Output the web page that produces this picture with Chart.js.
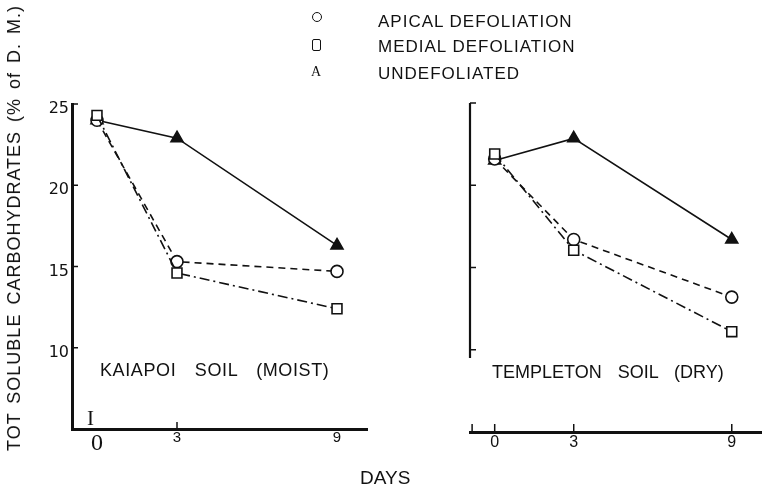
<!DOCTYPE html>
<html><head><meta charset="utf-8">
<script src="https://cdn.jsdelivr.net/npm/chart.js@4.4.1/dist/chart.umd.min.js"></script>
<style>
body{margin:0;background:#fff;}
#wrap{position:relative;width:770px;height:490px;overflow:hidden;background:#fff;font-family:"Liberation Sans",Arial,sans-serif;color:#111;}
canvas{position:absolute;top:0;}
.t{position:absolute;white-space:nowrap;line-height:1;}
.sym{position:absolute;box-sizing:border-box;border:1.6px solid #111;background:#fff;}
</style></head><body>
<div id="wrap">
<canvas id="left" width="385" height="490" style="left:0"></canvas>
<canvas id="right" width="385" height="490" style="left:385px"></canvas>

<div class="sym" style="left:312px;top:12px;width:10px;height:10px;border-radius:50%"></div>
<div class="t" style="left:378px;top:13px;font-size:17px;letter-spacing:1px">APICAL DEFOLIATION</div>
<div class="sym" style="left:312px;top:39px;width:9px;height:12px;border-radius:2px"></div>
<div class="t" style="left:378px;top:38px;font-size:17px;letter-spacing:1px">MEDIAL DEFOLIATION</div>
<div class="t" style="left:311px;top:65px;font-size:14px;font-family:'Liberation Serif',serif">A</div>
<div class="t" style="left:378px;top:65px;font-size:17px;letter-spacing:1px">UNDEFOLIATED</div>

<div class="t" style="left:14px;top:228px;font-size:18px;letter-spacing:1px;word-spacing:3px;transform:translate(-50%,-50%) rotate(-90deg)">TOT SOLUBLE CARBOHYDRATES (% of D. M.)</div>
<div class="t" style="left:100px;top:361px;font-size:18px;letter-spacing:0.6px;word-spacing:13px">KAIAPOI SOIL (MOIST)</div>
<div class="t" style="left:492px;top:363px;font-size:18px;word-spacing:11px">TEMPLETON SOIL (DRY)</div>
<div class="t" style="left:360px;top:468px;font-size:19px">DAYS</div>
<div class="t" style="left:87px;top:408px;font-size:21px;font-family:'Liberation Serif',serif">I</div>
</div>
<script>
// ---- data ----
const days = [0, 3, 9];
const xTickValues = [0, 3, 9];
const yTickValues = [10, 15, 20, 25];
const seriesNames = ['APICAL DEFOLIATION', 'MEDIAL DEFOLIATION', 'UNDEFOLIATED'];
// Kaiapoi soil (moist)
const kaiapoiApical = [24.0, 15.3, 14.7];
const kaiapoiMedial = [24.3, 14.6, 12.4];
const kaiapoiUndefoliated = [24.0, 22.9, 16.3];
// Templeton soil (dry)
const templetonApical = [21.6, 16.7, 13.2];
const templetonMedial = [21.9, 16.05, 11.1];
const templetonUndefoliated = [21.5, 22.85, 16.7];

const INK = '#111';
const X_MIN = -0.9375, X_MAX = 10.125, Y_MIN = 5, Y_MAX = 25;

function pts(vals){ return days.map((d,i)=>({x:d, y:vals[i]})); }

function datasets(ap, me, un){
  return [
    {label:seriesNames[0], data:pts(ap), borderColor:INK, borderWidth:1.6, borderDash:[7,5],
     pointStyle:'circle', pointRadius:6, pointBorderWidth:1.6, pointBackgroundColor:'#fff', pointBorderColor:INK, order:2, clip:false},
    {label:seriesNames[1], data:pts(me), borderColor:INK, borderWidth:1.6, borderDash:[10,4,2,4],
     pointStyle:'rect', pointRadius:7, pointBorderWidth:1.6, pointBackgroundColor:'#fff', pointBorderColor:INK, order:1, clip:false},
    {label:seriesNames[2], data:pts(un), borderColor:INK, borderWidth:1.6,
     pointStyle:'triangle', pointRadius:7, pointBorderWidth:1.5, pointBackgroundColor:INK, pointBorderColor:INK, order:3, clip:false}
  ];
}

const decor = {
  id:'decor',
  afterDraw(chart, args, o){
    const {ctx, chartArea:a, scales:{x, y}} = chart;
    ctx.save();
    ctx.strokeStyle = INK;
    if (o.yLine){
      ctx.lineWidth = 2.2;
      ctx.beginPath();
      ctx.moveTo(a.left, y.getPixelForValue(o.yLine[0]));
      ctx.lineTo(a.left, y.getPixelForValue(o.yLine[1]));
      ctx.stroke();
    }
    ctx.lineWidth = 1.5;
    (o.yTicks||[]).forEach(v=>{
      const py = y.getPixelForValue(v);
      ctx.beginPath(); ctx.moveTo(a.left, py); ctx.lineTo(a.left+6, py); ctx.stroke();
    });
    (o.xTicks||[]).forEach(v=>{
      const px = x.getPixelForValue(v);
      ctx.beginPath(); ctx.moveTo(px, a.bottom); ctx.lineTo(px, a.bottom-(o.xTickLen||7)); ctx.stroke();
    });
    ctx.restore();
  }
};

function makeChart(id, ds, cfg){
  return new Chart(document.getElementById(id), {
    type:'line',
    data:{datasets:ds},
    plugins:[decor],
    options:{
      responsive:false, animation:false,
      layout:{padding:{top:cfg.top, right:cfg.right, bottom:0, left:0}},
      plugins:{legend:{display:false}, tooltip:{enabled:false}, decor:cfg.decor},
      scales:{
        x:{type:'linear', min:X_MIN, max:X_MAX,
           afterFit:s=>{s.height = cfg.xHeight;},
           afterBuildTicks:s=>{s.ticks = xTickValues.map(v=>({value:v}));},
           grid:{display:true, drawOnChartArea:false, drawTicks:false},
           border:{display:true, color:INK, width:3},
           ticks:{color:INK, padding:cfg.xPad, maxRotation:0, autoSkip:false,
             font:cfg.xFont}},
        y:{type:'linear', min:Y_MIN, max:Y_MAX,
           afterFit:s=>{s.width = cfg.yWidth;},
           afterBuildTicks:s=>{s.ticks = yTickValues.map(v=>({value:v}));},
           grid:{display:true, drawOnChartArea:false, drawTicks:false},
           border:{display:cfg.yBorder, color:INK, width:3},
           ticks:{display:cfg.yLabels, color:INK, padding:3, labelOffset:5,
             font:{family:'DejaVu Sans', size:16}}}
      }
    }
  });
}

makeChart('left', datasets(kaiapoiApical, kaiapoiMedial, kaiapoiUndefoliated), {
  top:104, right:18, xHeight:61, yWidth:72, xPad:0, yBorder:true, yLabels:true,
  xFont:(c)=> (c.tick && c.tick.value===0) ? {family:'Liberation Serif', size:24} : {family:'Liberation Sans', size:15},
  decor:{yTicks:yTickValues, xTicks:[3], xTickLen:7}
});
makeChart('right', datasets(templetonApical, templetonMedial, templetonUndefoliated), {
  top:103, right:5, xHeight:58, yWidth:85, xPad:1, yBorder:false, yLabels:false,
  xFont:{family:'Liberation Sans', size:16},
  decor:{yLine:[25, 9.5], yTicks:yTickValues, xTicks:[X_MIN+0.08, 0, 3, 9], xTickLen:8}
});
</script>
</body></html>
